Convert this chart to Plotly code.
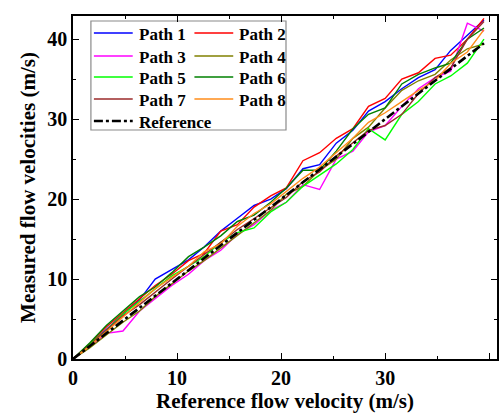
import plotly.graph_objects as go

x_ref = [0, 1.6, 3.2, 4.8, 6.4, 7.9, 9.5, 11.1, 12.6, 14.2, 15.8, 17.4, 19.0, 20.5,
         22.1, 23.7, 25.3, 26.9, 28.4, 30.0, 31.6, 33.2, 34.8, 36.3, 37.9, 39.5]

path1 = [0, 1.8, 3.7, 5.6, 7.4, 10.0, 11.2, 12.4, 14.0, 16.0, 17.6, 19.2, 20.0, 21.3,
         23.8, 24.3, 27.0, 28.6, 31.0, 32.2, 33.8, 35.2, 36.2, 38.6, 40.5, 42.4]
path2 = [0, 1.9, 4.0, 5.8, 7.6, 9.2, 10.6, 12.3, 13.2, 16.0, 16.8, 19.0, 20.4, 21.4,
         24.8, 25.8, 27.6, 28.8, 31.6, 32.6, 35.0, 35.8, 37.6, 38.0, 40.0, 42.6]
path3 = [0, 1.5, 3.2, 3.5, 6.0, 7.6, 9.2, 10.6, 12.3, 13.6, 15.6, 16.8, 18.6, 19.6,
         21.8, 21.2, 25.0, 26.0, 28.4, 29.2, 31.6, 33.8, 35.2, 36.0, 42.0, 41.0]
path4 = [0, 1.4, 3.0, 4.6, 6.0, 7.8, 9.4, 11.0, 12.3, 13.9, 15.4, 17.0, 18.6, 20.6,
         21.6, 23.6, 25.0, 27.6, 29.0, 31.4, 33.6, 34.8, 35.6, 37.4, 38.8, 39.4]
path5 = [0, 1.8, 3.6, 5.6, 7.2, 8.8, 10.4, 11.6, 12.8, 14.6, 15.8, 16.4, 18.4, 19.6,
         21.6, 23.0, 24.4, 26.2, 28.8, 27.4, 30.6, 32.2, 34.4, 35.4, 37.0, 40.0]
path6 = [0, 2.0, 4.2, 6.0, 7.8, 9.0, 10.8, 12.8, 14.0, 15.4, 17.2, 18.0, 19.6, 21.4,
         23.6, 23.6, 26.0, 28.8, 30.6, 31.4, 34.4, 35.6, 36.4, 37.0, 40.0, 41.4]
path7 = [0, 1.7, 3.6, 5.4, 6.8, 8.4, 10.0, 11.6, 13.0, 14.6, 16.2, 17.6, 19.0, 20.2,
         22.2, 23.4, 25.4, 27.0, 28.6, 29.2, 30.6, 33.2, 35.2, 36.4, 40.0, 42.2]
path8 = [0, 1.6, 3.4, 5.2, 7.0, 8.8, 10.2, 11.6, 13.4, 14.4, 16.6, 18.2, 19.4, 21.0,
         22.6, 24.0, 25.8, 27.6, 29.6, 30.8, 32.2, 33.6, 34.8, 37.0, 38.4, 41.2]
reference_x = [0, 39.5]
reference = [0, 39.5]

names = ["Path 1", "Path 2", "Path 3", "Path 4", "Path 5", "Path 6", "Path 7", "Path 8"]
series = [path1, path2, path3, path4, path5, path6, path7, path8]
colors = ["#0000ff", "#ff0000", "#ff00ff", "#808000", "#00ff00", "#008000", "#9b2a2a", "#ff8c1a"]

FONT = "Liberation Serif"
W, H = 499, 415
ML, MR, MT, MB = 73, 0, 16, 56
PW, PH = W - ML - MR, H - MT - MB


def px(xp):
    return (xp - ML) / PW


def py(yp):
    return (H - MB - yp) / PH


fig = go.Figure()
for name, ys, c in zip(names, series, colors):
    fig.add_trace(go.Scatter(x=x_ref, y=ys, mode="lines", name=name,
                             line=dict(color=c, width=1.4), showlegend=False))
fig.add_trace(go.Scatter(x=reference_x, y=reference, mode="lines", name="Reference",
                         line=dict(color="black", width=2.6, dash="dashdot"), showlegend=False))

# manual two-column legend
shapes = [dict(type="rect", xref="paper", yref="paper", x0=px(91), x1=px(287), y0=py(130), y1=py(21),
               line=dict(color="#8a8a8a", width=1.2), fillcolor="white", layer="below")]
annotations = []
rows = [33, 56, 77, 99, 121]
entries = [(n, c) for n, c in zip(names, colors)] + [("Reference", "black")]
for i, (n, c) in enumerate(entries):
    r, col = divmod(i, 2)
    x0 = 94 if col == 0 else 195
    yc = rows[r]
    if n == "Reference":
        shapes.append(dict(type="line", xref="paper", yref="paper", x0=px(94), x1=px(133),
                           y0=py(yc), y1=py(yc), line=dict(color="black", width=2.6, dash="dashdot")))
    else:
        shapes.append(dict(type="line", xref="paper", yref="paper", x0=px(x0), x1=px(x0 + 39),
                           y0=py(yc), y1=py(yc), line=dict(color=c, width=1.6)))
    annotations.append(dict(xref="paper", yref="paper", x=px(x0 + 43), y=py(yc + 1), text=n,
                            showarrow=False, xanchor="left", yanchor="middle",
                            font=dict(family=FONT, size=17, color="black", weight="bold")))

axis_common = dict(
    showline=True, linecolor="black", linewidth=1.5, mirror="ticks",
    ticks="inside", ticklen=6, tickwidth=1.3, tickcolor="black",
    showgrid=False, zeroline=False, dtick=10,
    tickfont=dict(family=FONT, size=20, color="black", weight="bold"),
    minor=dict(ticks="inside", ticklen=3, dtick=5, tickcolor="black", tickwidth=1.2, showgrid=False),
)

fig.update_layout(
    width=W, height=H,
    margin=dict(l=ML, r=MR, t=MT, b=MB),
    paper_bgcolor="white", plot_bgcolor="white",
    xaxis=dict(range=[0, 40.75], title=dict(text="Reference flow velocity (m/s)", standoff=4,
               font=dict(family=FONT, size=21, color="black", weight="bold")), **axis_common),
    yaxis=dict(range=[0, 42.9], title=dict(text="Measured flow velocities (m/s)", standoff=6,
               font=dict(family=FONT, size=21, color="black", weight="bold")), **axis_common),
    shapes=shapes,
    annotations=annotations,
    showlegend=False,
)

fig.write_html("out.html")
